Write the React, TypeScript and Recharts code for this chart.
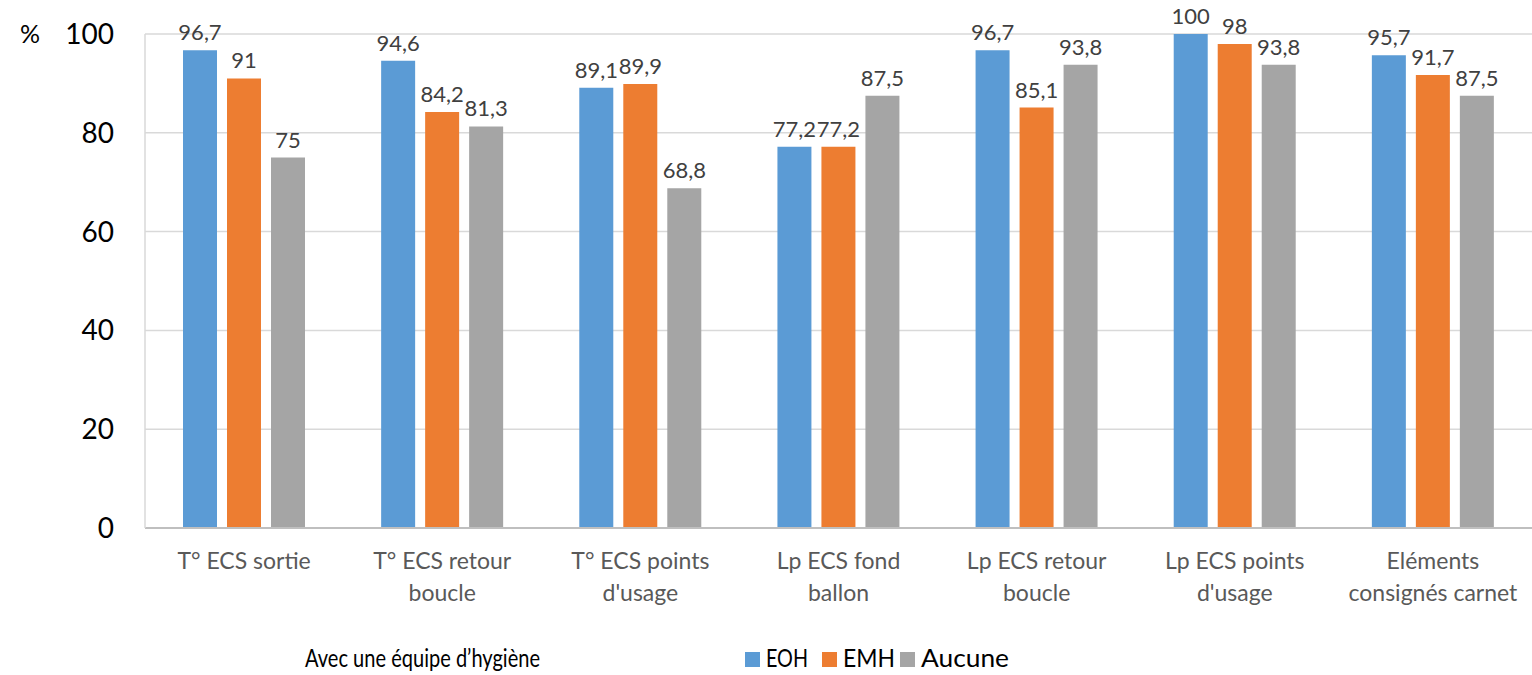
import React from "react";
import { BarChart, Bar, XAxis, YAxis, CartesianGrid, Legend, LabelList } from "recharts";

const categories = [
  "T° ECS sortie",
  "T° ECS retour\nboucle",
  "T° ECS points\nd'usage",
  "Lp ECS fond\nballon",
  "Lp ECS retour\nboucle",
  "Lp ECS points\nd'usage",
  "Eléments\nconsignés carnet",
];
const eoh = [96.7, 94.6, 89.1, 77.2, 96.7, 100, 95.7];
const emh = [91, 84.2, 89.9, 77.2, 85.1, 98, 91.7];
const aucune = [75, 81.3, 68.8, 87.5, 93.8, 93.8, 87.5];
const yTicks = [0, 20, 40, 60, 80, 100];
const seriesKeys = ["EOH", "EMH", "Aucune"];
const seriesNames = ["EOH", "EMH", "Aucune"];
const legendTitle = "Avec une équipe d\u2019hygiène";
const yUnit = "%";

const COLORS = ["#5B9BD5", "#ED7D31", "#A5A5A5"];
const FONT = "Lato, 'Open Sans', sans-serif";

const data = categories.map((c, i) => ({
  cat: c,
  EOH: eoh[i],
  EMH: emh[i],
  Aucune: aucune[i],
}));

const fmt = (v: any) => String(v).replace(".", ",");

const CatTick = (props: any) => {
  const { x, y, payload } = props;
  const lines = String(payload.value).split("\n");
  return (
    <g transform={`translate(${x},${y})`}>
      {lines.map((l: string, i: number) => (
        <text
          key={i}
          x={0}
          y={0}
          dy={33 + i * 32}
          textAnchor="middle"
          fill="#595959"
          fontSize={23}
          fontFamily={FONT}
        >
          {l}
        </text>
      ))}
    </g>
  );
};

const LegendContent = () => {
  const xs = [745, 822, 900];
  const widths = [42, 52, 88];
  return (
    <svg width={1532} height={50} style={{ display: "block" }}>
      <text
        x={305}
        y={42}
        fontSize={25}
        fontFamily={FONT}
        fill="#000"
        textLength={235}
        lengthAdjust="spacingAndGlyphs"
      >
        {legendTitle}
      </text>
      {seriesNames.map((name, i) => (
        <g key={i}>
          <rect x={xs[i]} y={27} width={15} height={15} fill={COLORS[i]} />
          <text
            x={xs[i] + 21}
            y={42}
            fontSize={25}
            fontFamily={FONT}
            fill="#000"
            textLength={widths[i]}
            lengthAdjust="spacingAndGlyphs"
          >
            {name}
          </text>
        </g>
      ))}
    </svg>
  );
};

const UnitLabel = (props: any) => {
  const vb = props.viewBox || {};
  return (
    <text x={(vb.x || 0) + 20} y={vb.y || 0} dy="0.35em" fontSize={25} fontFamily={FONT} fill="#000">
      {yUnit}
    </text>
  );
};

export default function App() {
  return (
    <div style={{ position: "absolute", left: 0, top: 0, background: "#fff" }}>
      <BarChart
        width={1532}
        height={675}
        data={data}
        margin={{ top: 34, right: 0, bottom: 0, left: 0 }}
        barGap={10}
        barSize={34}
      >
        <CartesianGrid vertical={false} stroke="#d9d9d9" strokeWidth={1.5} />
        <XAxis
          dataKey="cat"
          tick={<CatTick />}
          tickLine={false}
          axisLine={{ stroke: "#bfbfbf", strokeWidth: 2 }}
          height={97}
          interval={0}
        />
        <YAxis
          domain={[0, 100]}
          ticks={yTicks}
          width={145}
          tickLine={false}
          tickSize={0}
          tickMargin={31}
          axisLine={{ stroke: "#d9d9d9", strokeWidth: 1.5 }}
          tick={{ fontSize: 28, fontFamily: FONT, fill: "#000" }}
          label={<UnitLabel />}
        />
        <Legend verticalAlign="bottom" height={50} content={<LegendContent />} />
        {seriesKeys.map((k, i) => (
          <Bar key={k} dataKey={k} name={seriesNames[i]} fill={COLORS[i]} isAnimationActive={false}>
            <LabelList
              dataKey={k}
              position="top"
              offset={10}
              formatter={fmt}
              fill="#404040"
              fontSize={22}
              fontFamily={FONT}
            />
          </Bar>
        ))}
      </BarChart>
    </div>
  );
}
